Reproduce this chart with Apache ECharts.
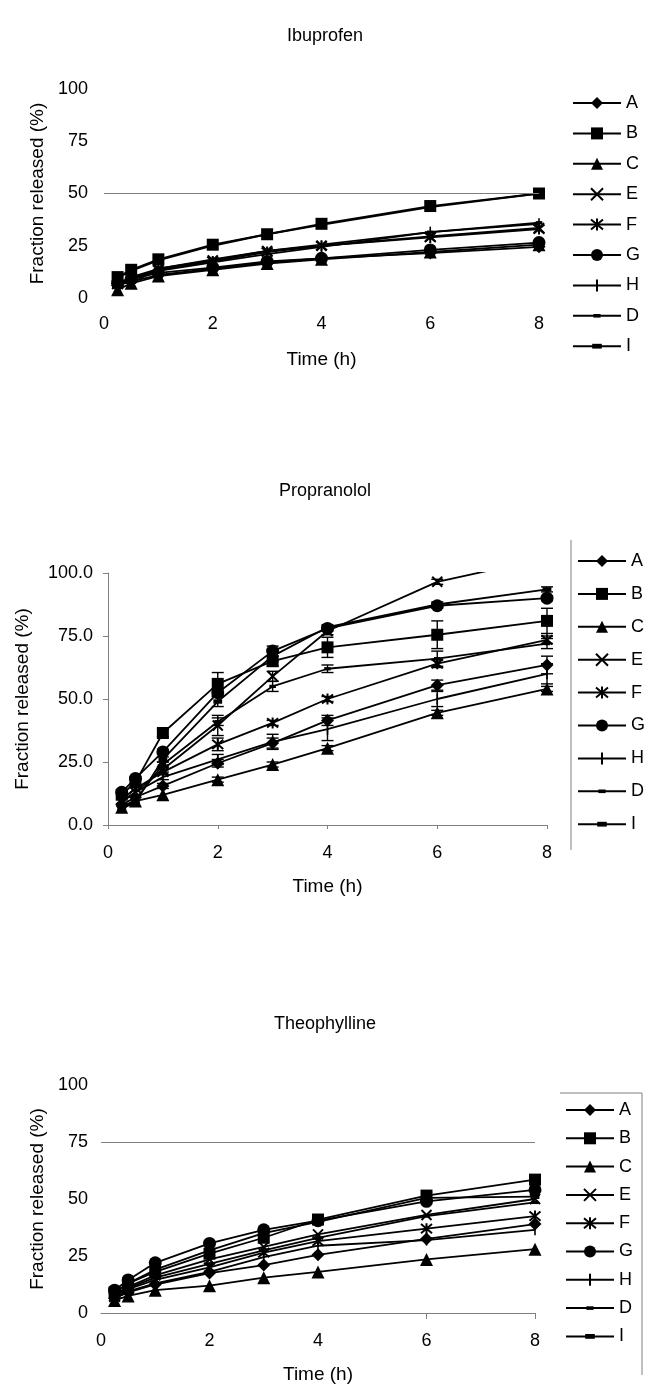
<!DOCTYPE html>
<html>
<head>
<meta charset="utf-8">
<script src="https://cdn.jsdelivr.net/npm/echarts@6/dist/echarts.min.js"></script>
<style>
  html, body { margin: 0; padding: 0; background: #fff; }
  #chart { width: 646px; height: 1386px; }
</style>
</head>
<body>
<div id="chart"></div>
<script>
const times = [0.25, 0.5, 1, 2, 3, 4, 6, 8];
const seriesNames = ['A', 'B', 'C', 'E', 'F', 'G', 'H', 'D', 'I'];
const panelTitles = ['Ibuprofen', 'Propranolol', 'Theophylline'];

// rows follow seriesNames: A, B, C, E, F, G, H, D, I
const ibuprofen = [
  [6, 8, 11, 14, 17, 19, 21.5, 24.5],
  [10, 13.5, 18.5, 25.5, 30.5, 35.5, 44, 50],
  [4, 7, 10.5, 13.5, 16.5, 18.5, 22, 25.5],
  [7, 10, 14, 18, 22.5, 25, 29.5, 33.5],
  [6.5, 9.5, 13.5, 17.5, 22, 25, 29, 33],
  [7, 9, 12, 14.5, 17.5, 19, 23, 26.5],
  [6, 9, 13, 17, 21, 24.5, 31.5, 35.5],
  [7.5, 7, 14, 18.5, 22.5, 25.5, 31.5, 36],
  [9.5, 13, 18, 25, 30.5, 35, 43.5, 50]
];
const propranolol = [
  [8, 11, 15.5, 24.5, 32.5, 41.5, 55.5, 63.5],
  [12, 17, 36.5, 56, 65, 70.5, 75.5, 81],
  [7, 9.5, 12, 18, 24, 30.5, 44.5, 54],
  [9, 13, 22, 39.5, 59, 77, 96.5, 106],
  [10, 14.5, 21, 32, 40.5, 50, 64, 73.5],
  [13, 18.5, 29, 52.5, 69, 78, 87, 90],
  [9.5, 13, 19, 26, 33, 38, 50, 60],
  [7, 10, 24, 41, 55, 62, 66, 72],
  [6.5, 9, 26, 49, 67, 78.5, 87.5, 93.5]
];
// half-length of the error bars (propranolol only)
const propranololErr = [
  [0, 0, 1, 1.5, 2, 2, 2, 3.5],
  [0, 1, 1.5, 4.5, 2, 4, 5.5, 5],
  [0, 0, 0, 1, 1, 1, 1, 1],
  [0, 0, 1, 4, 2, 1.5, 1, 0],
  [0, 0, 1, 2.5, 1, 1, 1.5, 1.5],
  [0, 0, 1, 1.5, 2, 1, 1, 1],
  [0, 0, 1, 2, 3, 4.5, 3, 4],
  [0, 0, 1, 1.5, 2, 1.5, 3, 2],
  [0, 0, 1, 2, 2, 1, 1, 1]
];
const theophylline = [
  [6.5, 9, 12.5, 17.5, 21, 25.5, 32.5, 39],
  [9, 13, 18, 26, 33, 41, 51.5, 58.5],
  [5.5, 7.5, 10, 12, 15.5, 18, 23.5, 28],
  [8, 11.5, 16.5, 23.5, 29, 34.5, 43, 50],
  [7, 10.5, 14.5, 20, 26.5, 31.5, 37, 42.5],
  [10, 14.5, 22, 30.5, 36.5, 40.5, 49, 54],
  [6.5, 9.5, 13, 18, 24.5, 29.5, 32, 36.5],
  [7.5, 11, 15.5, 21.5, 27.5, 33, 42.5, 48.5],
  [8.5, 13, 19, 27.5, 35, 40, 50.5, 51]
];
const ibuprofenGridLine = 50;
const theophyllineGridLine = 75;
const theophyllineTicks = [6, 8];

const FONT = '"Liberation Sans", Arial, sans-serif';
const symbols = {
  A: { symbol: 'diamond', size: 13, border: 0 },
  B: { symbol: 'rect', size: 12, border: 0 },
  C: { symbol: 'triangle', size: 13, border: 0 },
  E: { symbol: 'path://M0,0L10,10M10,0L0,10', size: 10, border: 2 },
  F: { symbol: 'path://M0,0L10,10M10,0L0,10M5,-1L5,11', size: 11, border: 2 },
  G: { symbol: 'circle', size: 13, border: 0 },
  H: { symbol: 'path://M0,0M10,10M5,0L5,10', size: 11, border: 1.6 },
  D: { symbol: 'path://M0,0M10,10M2,3.5h6v3h-6z', size: 11, border: 0 },
  I: { symbol: 'path://M0,0M10,10M1,3h8v4h-8z', size: 11, border: 0 }
};

const chart = echarts.init(document.getElementById('chart'));

const grids = [
  { left: 104, right: 107, top: 89, height: 209 },
  { left: 108, right: 99, top: 573, height: 252 },
  { left: 101, right: 111, top: 1085, height: 228 }
];
const panelData = [ibuprofen, propranolol, theophylline];

const axisText = { color: '#000', fontSize: 18, fontFamily: FONT };
const nameText = { color: '#000', fontSize: 19, fontFamily: FONT };

const xAxes = [
  { gridIndex: 0, type: 'value', min: 0, max: 8, interval: 2, name: 'Time (h)', nameLocation: 'middle', nameGap: 52,
    nameTextStyle: nameText, axisLine: { show: false }, axisTick: { show: false }, splitLine: { show: false },
    axisLabel: Object.assign({ margin: 17 }, axisText) },
  { gridIndex: 1, type: 'value', min: 0, max: 8, interval: 2, name: 'Time (h)', nameLocation: 'middle', nameGap: 52,
    nameTextStyle: nameText, axisLine: { show: true, lineStyle: { color: '#808080', width: 1 } },
    axisTick: { show: true, length: 4, lineStyle: { color: '#808080' } }, splitLine: { show: false },
    axisLabel: Object.assign({ margin: 19 }, axisText) },
  { gridIndex: 2, type: 'value', min: 0, max: 8, interval: 2, name: 'Time (h)', nameLocation: 'middle', nameGap: 52,
    nameTextStyle: nameText, axisLine: { show: true, lineStyle: { color: '#808080', width: 1 } },
    axisTick: { show: true, length: 6, customValues: theophyllineTicks, lineStyle: { color: '#808080' } },
    splitLine: { show: false },
    axisLabel: Object.assign({ margin: 19 }, axisText) }
];
const yAxes = [
  { gridIndex: 0, type: 'value', min: 0, max: 100, interval: 25, name: 'Fraction released (%)', nameLocation: 'middle',
    nameGap: 55, nameTextStyle: nameText, axisLine: { show: false }, axisTick: { show: false }, splitLine: { show: false },
    axisLabel: Object.assign({ margin: 16 }, axisText) },
  { gridIndex: 1, type: 'value', min: 0, max: 100, interval: 25, name: 'Fraction released (%)', nameLocation: 'middle',
    nameGap: 76, nameTextStyle: nameText, axisLine: { show: true, lineStyle: { color: '#808080', width: 1 } },
    axisTick: { show: true, length: 5, lineStyle: { color: '#808080' } }, splitLine: { show: false },
    axisLabel: Object.assign({ margin: 15, formatter: v => v.toFixed(1) }, axisText) },
  { gridIndex: 2, type: 'value', min: 0, max: 100, interval: 25, name: 'Fraction released (%)', nameLocation: 'middle',
    nameGap: 53, nameTextStyle: nameText, axisLine: { show: false }, axisTick: { show: false }, splitLine: { show: false },
    axisLabel: Object.assign({ margin: 13 }, axisText) }
];

const series = [];
panelData.forEach((rows, p) => {
  rows.forEach((vals, i) => {
    const name = seriesNames[i];
    const s = symbols[name];
    const item = {
      type: 'line',
      name: name,
      xAxisIndex: p,
      yAxisIndex: p,
      data: times.map((t, j) => [t, vals[j]]),
      symbol: s.symbol,
      symbolSize: s.size,
      showAllSymbol: true,
      z: 3,
      lineStyle: { color: '#000', width: 1.8 },
      itemStyle: { color: '#000', borderColor: '#000', borderWidth: s.border },
      clip: true
    };
    if (i === 0 && p === 0) {
      item.markLine = { silent: true, symbol: 'none', label: { show: false },
        lineStyle: { color: '#808080', width: 1, type: 'solid' }, data: [{ yAxis: ibuprofenGridLine }] };
    }
    if (i === 0 && p === 2) {
      item.markLine = { silent: true, symbol: 'none', label: { show: false },
        lineStyle: { color: '#808080', width: 1, type: 'solid' }, data: [{ yAxis: theophyllineGridLine }] };
    }
    series.push(item);
  });
});

// error bars for propranolol
const errData = [];
propranolol.forEach((vals, i) => {
  vals.forEach((v, j) => {
    const e = propranololErr[i][j];
    if (e > 0 && v - e < 100) errData.push([times[j], v - e, Math.min(100, v + e)]);
  });
});
series.push({
  type: 'custom',
  name: 'err',
  xAxisIndex: 1,
  yAxisIndex: 1,
  z: 2,
  data: errData,
  encode: { x: 0, y: [1, 2] },
  renderItem: function (params, api) {
    const lo = api.coord([api.value(0), api.value(1)]);
    const hi = api.coord([api.value(0), api.value(2)]);
    const w = 6;
    const st = { stroke: '#000', lineWidth: 1.4 };
    return {
      type: 'group',
      children: [
        { type: 'line', shape: { x1: lo[0], y1: lo[1], x2: hi[0], y2: hi[1] }, style: st },
        { type: 'line', shape: { x1: lo[0] - w, y1: lo[1], x2: lo[0] + w, y2: lo[1] }, style: st },
        { type: 'line', shape: { x1: hi[0] - w, y1: hi[1], x2: hi[0] + w, y2: hi[1] }, style: st }
      ]
    };
  }
});

const legendBase = {
  orient: 'vertical',
  padding: 0,
  itemWidth: 48,
  itemHeight: 15,
  selectedMode: false,
  textStyle: { color: '#000', fontSize: 18, fontFamily: FONT },
  data: seriesNames
};

const titleText = { fontSize: 18, fontWeight: 'normal', color: '#000', fontFamily: FONT };

chart.setOption({
  animation: false,
  backgroundColor: '#fff',
  title: [
    { text: panelTitles[0], left: 282, top: 22, textStyle: titleText },
    { text: panelTitles[1], left: 274, top: 477, textStyle: titleText },
    { text: panelTitles[2], left: 269, top: 1010, textStyle: titleText }
  ],
  legend: [
    Object.assign({}, legendBase, { left: 572, top: 94, itemGap: 12.4 }),
    Object.assign({}, legendBase, { left: 577, top: 552, itemGap: 14.9 }),
    Object.assign({}, legendBase, { left: 565, top: 1101, itemGap: 10.3 })
  ],
  graphic: [
    { type: 'line', shape: { x1: 571, y1: 540, x2: 571, y2: 850 }, style: { stroke: '#808080', lineWidth: 1 } },
    { type: 'polyline', shape: { points: [[560, 1093], [642, 1093], [642, 1375]] }, style: { stroke: '#808080', lineWidth: 1, fill: null } }
  ],
  grid: grids,
  xAxis: xAxes,
  yAxis: yAxes,
  series: series
});
</script>
</body>
</html>
